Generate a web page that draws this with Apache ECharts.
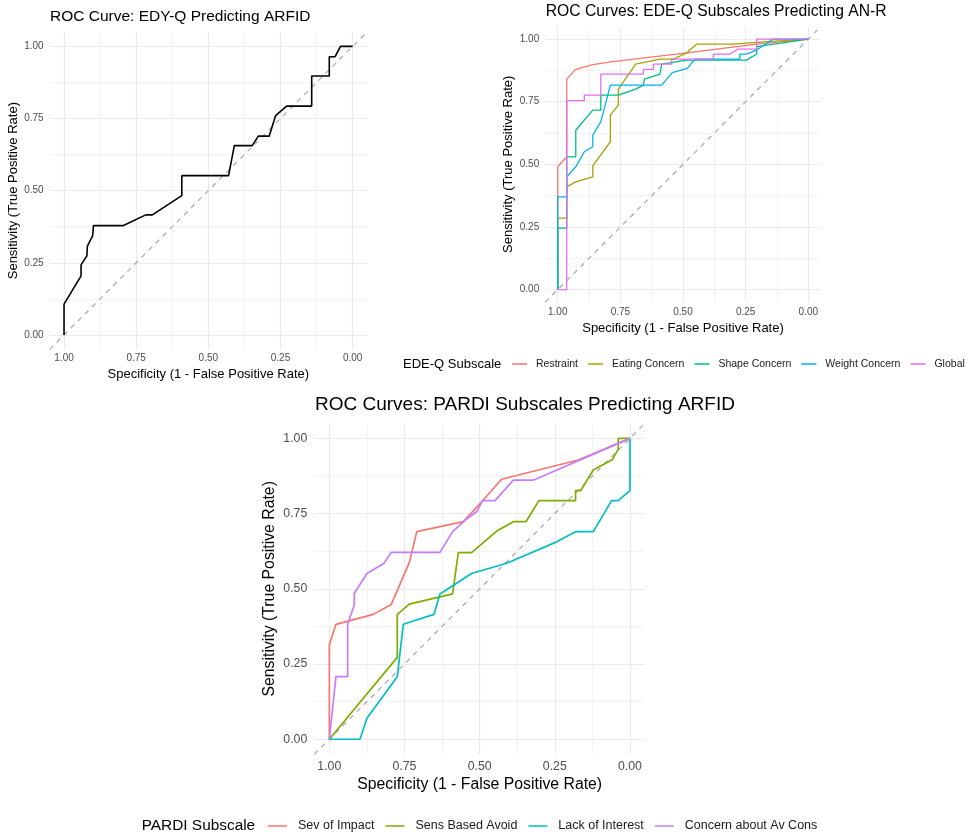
<!DOCTYPE html>
<html>
<head>
<meta charset="utf-8">
<title>ROC Curves</title>
<script src="https://cdn.jsdelivr.net/npm/echarts@6/dist/echarts.min.js"></script>
<style>
    html, body { margin: 0; padding: 0; background: #fff; }
    #chart { width: 968px; height: 837px; }
</style>
</head>
<body>
<div id="chart"></div>
<script>
// 刻度
var tickValues = [0, 0.25, 0.5, 0.75, 1];
var minorTickValues = [0.125, 0.375, 0.625, 0.875];
var diagonalLine = [[1.05, -0.05], [-0.05, 1.05]];

// EDY-Q  [specificity, sensitivity]
var edyqCurve = [[1, 0], [1, 0.107], [0.941, 0.205], [0.941, 0.243], [0.921, 0.274], [0.919, 0.308], [0.901, 0.343],
    [0.898, 0.379], [0.794, 0.379], [0.717, 0.416], [0.694, 0.416], [0.592, 0.483], [0.592, 0.552], [0.430, 0.552],
    [0.410, 0.656], [0.348, 0.656], [0.327, 0.689], [0.289, 0.689], [0.267, 0.760], [0.229, 0.793], [0.142, 0.793],
    [0.142, 0.897], [0.081, 0.897], [0.081, 0.964], [0.061, 0.964], [0.042, 1], [0, 1]];

// EDE-Q
var edeqNames = ['Restraint', 'Eating Concern', 'Shape Concern', 'Weight Concern', 'Global'];
var restraintCurve = [[1, 0], [1, 0.49], [0.964, 0.53], [0.964, 0.84], [0.93, 0.878], [0.86, 0.898], [0.78, 0.91],
    [0.485, 0.945], [0.206, 0.98], [0, 1]];
var eatingCurve = [[1, 0], [1, 0.285], [0.964, 0.285], [0.964, 0.41], [0.928, 0.43], [0.86, 0.45], [0.86, 0.494],
    [0.79, 0.59], [0.79, 0.696], [0.758, 0.736], [0.758, 0.80], [0.689, 0.90], [0.592, 0.92], [0.539, 0.92],
    [0.485, 0.945], [0.445, 0.98], [0.30, 0.98], [0.166, 0.99], [0, 1]];
var shapeCurve = [[1, 0], [1, 0.245], [0.964, 0.245], [0.964, 0.53], [0.928, 0.53], [0.928, 0.636], [0.86, 0.716],
    [0.828, 0.716], [0.828, 0.776], [0.758, 0.776], [0.689, 0.80], [0.658, 0.816], [0.654, 0.84], [0.592, 0.86],
    [0.585, 0.86], [0.585, 0.90], [0.485, 0.916], [0.246, 0.916], [0.206, 0.94], [0.206, 0.97], [0, 1]];
var weightCurve = [[1, 0], [1, 0.37], [0.964, 0.37], [0.964, 0.45], [0.928, 0.49], [0.894, 0.55], [0.86, 0.57],
    [0.86, 0.617], [0.828, 0.67], [0.79, 0.816], [0.585, 0.816], [0.543, 0.866], [0.483, 0.883], [0.452, 0.92],
    [0.273, 0.92], [0.273, 0.94], [0.246, 0.94], [0.206, 0.956], [0.14, 1], [0, 1]];
var globalCurve = [[1, 0], [0.964, 0], [0.964, 0.754], [0.894, 0.754], [0.894, 0.776], [0.828, 0.776], [0.828, 0.86],
    [0.658, 0.86], [0.658, 0.879], [0.618, 0.879], [0.618, 0.90], [0.545, 0.90], [0.545, 0.92], [0.379, 0.92],
    [0.379, 0.94], [0.313, 0.94], [0.28, 0.96], [0.206, 0.96], [0.206, 1], [0, 1]];

// PARDI
var pardiNames = ['Sev of Impact', 'Sens Based Avoid', 'Lack of Interest', 'Concern about Av Cons'];
var sevImpactCurve = [[1, 0], [1, 0.313], [0.978, 0.382], [0.854, 0.415], [0.794, 0.448], [0.734, 0.587],
    [0.709, 0.69], [0.554, 0.723], [0.488, 0.795], [0.427, 0.864], [0.172, 0.928], [0, 1]];
var sensAvoidCurve = [[1, 0], [0.774, 0.272], [0.774, 0.415], [0.734, 0.449], [0.59, 0.483], [0.571, 0.62],
    [0.527, 0.62], [0.443, 0.692], [0.388, 0.723], [0.346, 0.723], [0.303, 0.793], [0.181, 0.793], [0.181, 0.826],
    [0.164, 0.826], [0.122, 0.895], [0.058, 0.93], [0.039, 0.964], [0.039, 1], [0, 1]];
var lackInterestCurve = [[1, 0], [0.898, 0], [0.875, 0.07], [0.774, 0.208], [0.754, 0.382], [0.652, 0.415],
    [0.632, 0.483], [0.527, 0.551], [0.41, 0.585], [0.244, 0.656], [0.181, 0.69], [0.122, 0.69], [0.061, 0.793],
    [0.039, 0.793], [0, 0.826], [0, 1]];
var concernCurve = [[1, 0], [0.978, 0.208], [0.939, 0.208], [0.939, 0.383], [0.917, 0.446], [0.917, 0.485],
    [0.875, 0.551], [0.818, 0.585], [0.794, 0.621], [0.632, 0.621], [0.59, 0.69], [0.547, 0.729], [0.51, 0.756],
    [0.49, 0.793], [0.449, 0.793], [0.388, 0.861], [0.322, 0.861], [0, 1]];

var FONT = 'Liberation Sans, Arial, sans-serif';
var edeqColors = ['#F8766D', '#A3A500', '#00BF7D', '#00B0F6', '#E76BF3'];
var pardiColors = ['#F8766D', '#7CAE00', '#00BFC4', '#C77CFF'];

function RocFigure(domId) {
    this.chart = echarts.init(document.getElementById(domId));
    this.init();
}
RocFigure.prototype = {
    constructor: RocFigure,
    init: function () {
        var that = this;
        that.chart.setOption(that.buildOption());
    },
    // 坐标轴 (主网格线 + 次网格线)
    axisPair: function (dim, gridIndex, cfg) {
        var major = {
            type: 'value', gridIndex: gridIndex, min: -0.05, max: 1.05, inverse: dim === 'x',
            axisLine: {show: false},
            axisTick: {show: false, customValues: tickValues},
            axisLabel: {
                customValues: tickValues, fontSize: cfg.tick, color: '#4D4D4D', fontFamily: FONT,
                margin: cfg.margin,
                formatter: function (v) { return v.toFixed(2); }
            },
            splitLine: {show: true, lineStyle: {color: '#EBEBEB', width: 1.1}},
            name: cfg.name, nameLocation: 'middle', nameGap: cfg.nameGap,
            nameTextStyle: {fontSize: cfg.title, color: '#000', fontFamily: FONT}
        };
        var minor = {
            type: 'value', gridIndex: gridIndex, min: -0.05, max: 1.05, inverse: dim === 'x',
            axisLine: {show: false},
            axisTick: {show: false, customValues: minorTickValues},
            axisLabel: {show: false},
            splitLine: {show: true, lineStyle: {color: '#F4F4F4', width: 1}}
        };
        return [major, minor];
    },
    lineSeries: function (name, gridIndex, data, color, width) {
        return {
            type: 'line', name: name, xAxisIndex: gridIndex * 2, yAxisIndex: gridIndex * 2,
            data: data, symbol: 'none', color: color, itemStyle: {color: color},
            lineStyle: {color: color, width: width}, z: 3
        };
    },
    diagSeries: function (gridIndex) {
        return {
            type: 'line', name: 'diag' + gridIndex, xAxisIndex: gridIndex * 2, yAxisIndex: gridIndex * 2,
            data: diagonalLine, symbol: 'none', silent: true, z: 2,
            lineStyle: {color: '#A8A8A8', width: 1.2, type: [5, 5]}
        };
    },
    textTitle: function (text, left, centerY, size) {
        var lh = Math.round(size * 1.2);
        return {
            text: text, left: left, top: centerY - lh / 2, padding: 0,
            textStyle: {fontSize: size, fontWeight: 'normal', color: '#000', fontFamily: FONT, lineHeight: lh}
        };
    },
    buildOption: function () {
        var that = this;
        var xName = 'Specificity (1 - False Positive Rate)';
        var yName = 'Sensitivity (True Positive Rate)';
        var xAxes = [].concat(
            that.axisPair('x', 0, {tick: 10, margin: 4, name: xName, nameGap: 19, title: 13}),
            that.axisPair('x', 1, {tick: 10, margin: 5, name: xName, nameGap: 20, title: 13}),
            that.axisPair('x', 2, {tick: 12.3, margin: 6, name: xName, nameGap: 22, title: 15.8})
        );
        var yAxes = [].concat(
            that.axisPair('y', 0, {tick: 10, margin: 6, name: yName, nameGap: 30, title: 13}),
            that.axisPair('y', 1, {tick: 10, margin: 6, name: yName, nameGap: 30, title: 13}),
            that.axisPair('y', 2, {tick: 12.3, margin: 7, name: yName, nameGap: 37, title: 15.8})
        );
        var series = [that.diagSeries(0), that.lineSeries('EDY-Q', 0, edyqCurve, '#000000', 1.6), that.diagSeries(1)];
        var edeqData = [restraintCurve, eatingCurve, shapeCurve, weightCurve, globalCurve];
        $each(edeqData, function (i, d) {
            series.push(that.lineSeries(edeqNames[i], 1, d, edeqColors[i], 1.3));
        });
        series.push(that.diagSeries(2));
        var pardiData = [sevImpactCurve, sensAvoidCurve, lackInterestCurve, concernCurve];
        $each(pardiData, function (i, d) {
            series.push(that.lineSeries(pardiNames[i], 2, d, pardiColors[i], 1.7));
        });
        return {
            animation: false,
            backgroundColor: '#ffffff',
            title: [
                that.textTitle('ROC Curve: EDY-Q Predicting ARFID', 50, 17, 15.5),
                that.textTitle('ROC Curves: EDE-Q Subscales Predicting AN-R', 545.7, 12, 15.7),
                that.textTitle('ROC Curves: PARDI Subscales Predicting ARFID', 315, 405, 19),
                that.textTitle('EDE-Q Subscale', 403, 364, 13),
                that.textTitle('PARDI Subscale', 141.7, 826, 15.4)
            ],
            legend: [
                {
                    data: edeqNames, left: 512, top: 358, width: 456, orient: 'horizontal', padding: 0,
                    icon: 'rect', itemWidth: 15, itemHeight: 1.5, itemGap: 10, selectedMode: false,
                    textStyle: {fontSize: 10.5, color: '#1A1A1A', fontFamily: FONT, lineHeight: 12, padding: [0, 0, 0, 4]}
                },
                {
                    data: pardiNames, left: 268, top: 819, orient: 'horizontal', padding: 0,
                    icon: 'rect', itemWidth: 19, itemHeight: 1.5, itemGap: 11, selectedMode: false,
                    textStyle: {fontSize: 12.5, color: '#1A1A1A', fontFamily: FONT, lineHeight: 14, padding: [0, 0, 0, 6]}
                }
            ],
            grid: [
                {left: 49.6, top: 31.9, width: 317.5, height: 317.5},
                {left: 545.2, top: 26.5, width: 275.6, height: 275.6},
                {left: 314.3, top: 423.3, width: 330.7, height: 331}
            ],
            xAxis: xAxes,
            yAxis: yAxes,
            series: series
        };
    }
};

function $each(arr, fn) {
    for (var i = 0; i < arr.length; i++) {
        fn(i, arr[i]);
    }
}

var rocFigureIns = new RocFigure('chart');
</script>
</body>
</html>
